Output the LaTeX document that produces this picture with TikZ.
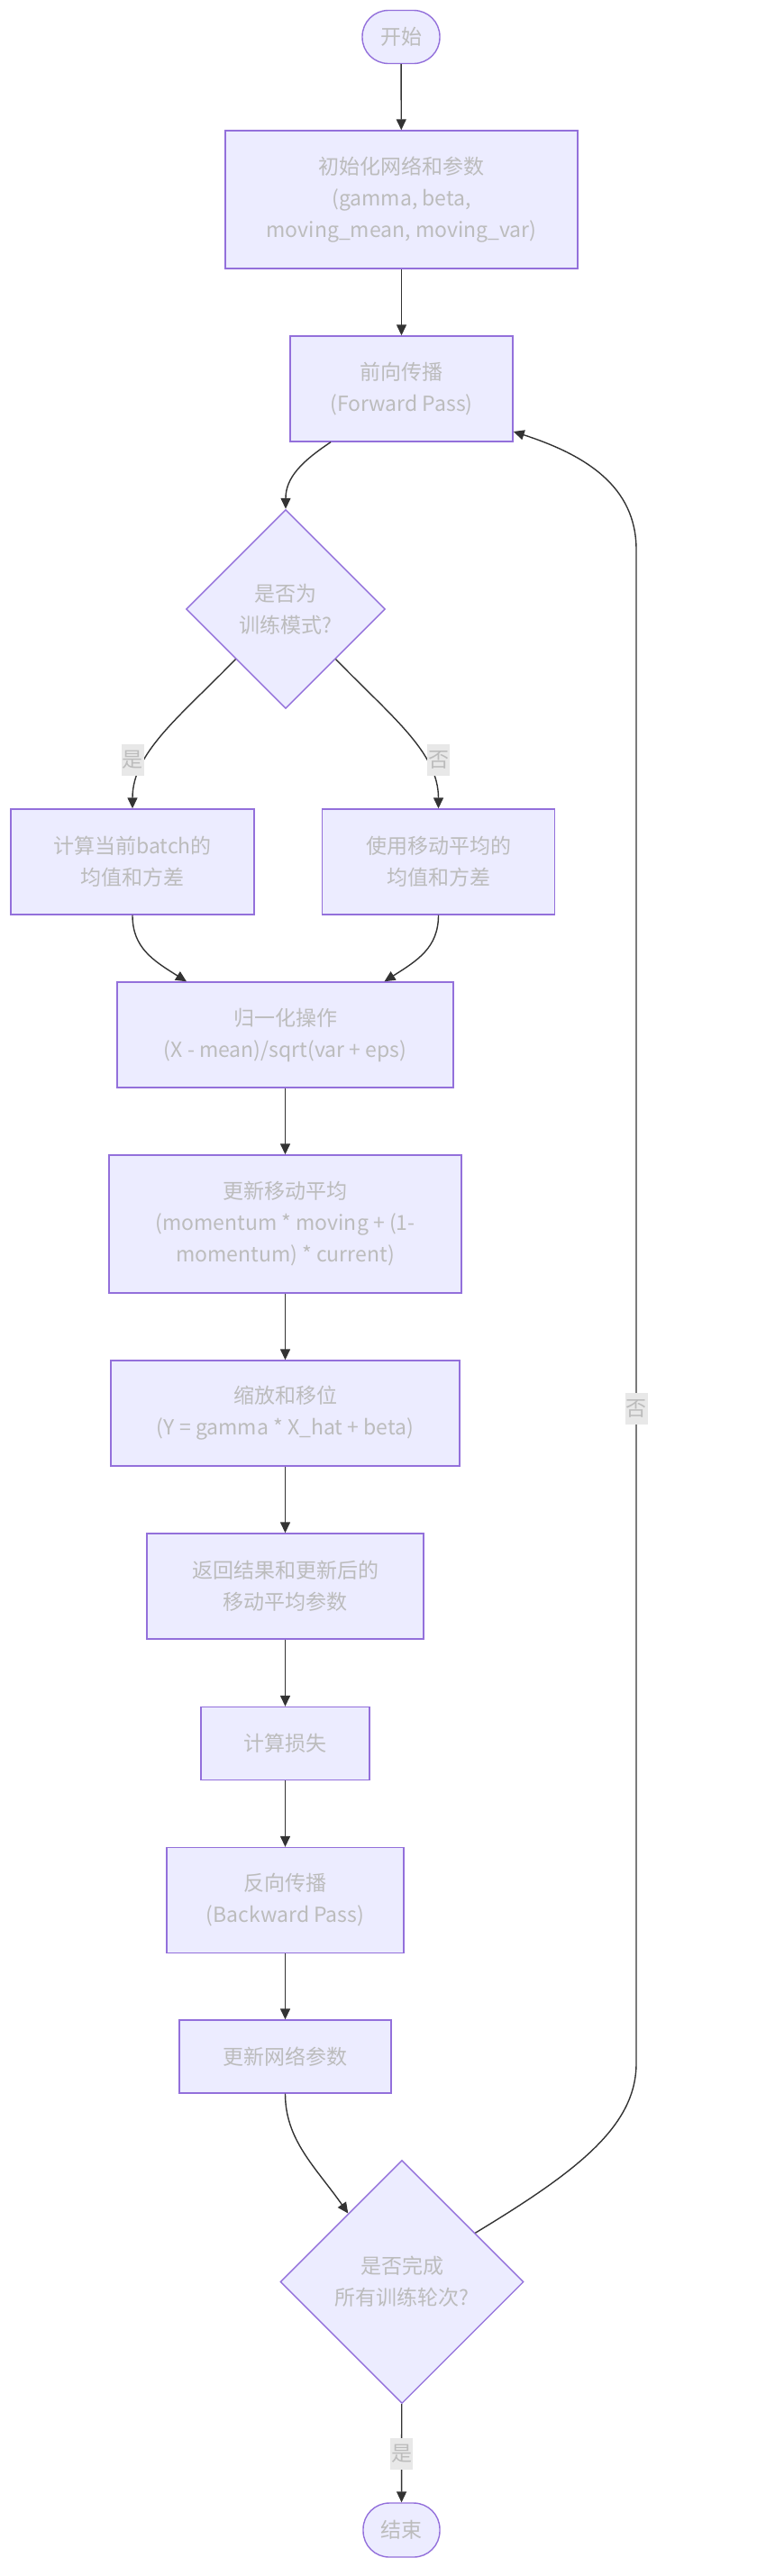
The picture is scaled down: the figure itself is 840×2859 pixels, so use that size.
\documentclass[tikz,border=0pt]{standalone}
\usepackage{fontspec}
\setmainfont{Noto Sans CJK SC}
\usetikzlibrary{shapes.geometric,arrows.meta,calc}
\definecolor{nodefill}{HTML}{ECECFF}
\definecolor{nodeline}{HTML}{9370DB}
\definecolor{txtgray}{RGB}{188,188,188}
\definecolor{edgecol}{HTML}{333333}
\definecolor{lblbg}{RGB}{232,232,232}
\tikzset{
  base/.style={draw=nodeline, fill=nodefill, line width=1.4pt, text=txtgray,
    align=center, inner sep=0pt, font=\fontsize{23}{35}\selectfont},
  procbox/.style={base, rectangle},
  termbox/.style={base, rectangle, rounded corners=29pt},
  decbox/.style={base, diamond, aspect=1},
  elabel/.style={fill=lblbg, text=txtgray, inner xsep=1pt, inner ysep=0pt,
    minimum height=35pt, font=\fontsize{23}{35}\selectfont},
  conn/.style={draw=edgecol, line width=1.4pt, -{Triangle[length=12pt,width=11pt]}}
}
\begin{document}
\begin{tikzpicture}[x=1pt,y=-1pt]
\useasboundingbox (0,0) rectangle (840,2859);
\node[termbox, minimum width=86pt, minimum height=59pt] (start) at (445,41) {开始};
\node[procbox, minimum width=391pt, minimum height=153pt] (init) at (445.5,221.5) {初始化网络和参数\\(gamma, beta,\\moving\_mean, moving\_var)};
\node[procbox, minimum width=247pt, minimum height=117pt] (fwd) at (445.5,431.5) {前向传播\\(Forward Pass)};
\node[decbox, minimum width=221pt, minimum height=221pt] (d1) at (317,676) {是否为\\训练模式?};
\node[procbox, minimum width=270pt, minimum height=117pt] (lb) at (147,956.5) {计算当前batch的\\均值和方差};
\node[procbox, minimum width=258pt, minimum height=117pt] (rb) at (486.5,956.5) {使用移动平均的\\均值和方差};
\node[procbox, minimum width=373pt, minimum height=117pt] (norm) at (316.5,1148.5) {归一化操作\\(X - mean)/sqrt(var + eps)};
\node[procbox, minimum width=391pt, minimum height=153pt] (upd) at (316.5,1358.5) {更新移动平均\\(momentum * moving + (1-\\momentum) * current)};
\node[procbox, minimum width=387pt, minimum height=117pt] (scl) at (316.5,1568.5) {缩放和移位\\(Y = gamma * X\_hat + beta)};
\node[procbox, minimum width=307pt, minimum height=117pt] (ret) at (316.5,1760.5) {返回结果和更新后的\\移动平均参数};
\node[procbox, minimum width=187pt, minimum height=81pt] (loss) at (316.5,1935) {计算损失};
\node[procbox, minimum width=263pt, minimum height=117pt] (bwd) at (316.5,2109) {反向传播\\(Backward Pass)};
\node[procbox, minimum width=235pt, minimum height=81pt] (updnet) at (316.5,2282.5) {更新网络参数};
\node[decbox, minimum width=270pt, minimum height=270pt] (d2) at (446,2532.5) {是否完成\\所有训练轮次?};
\node[termbox, minimum width=85pt, minimum height=60pt] (end) at (445.5,2808) {结束};

\coordinate (fwdout) at ([xshift=-78.5pt]fwd.south);
\coordinate (normin1) at ([xshift=-109.5pt]norm.north);
\coordinate (normin2) at ([xshift=110pt]norm.north);
\coordinate (d2in) at ($(d2.west)!0.56!(d2.north)$);
\coordinate (d2out) at ($(d2.north)!0.6!(d2.east)$);
\coordinate (fwdin) at ([yshift=-47.5pt]fwd.east);

\draw[conn] (start) -- (init);
\draw[conn] (init) -- (fwd);
\draw[conn] (fwdout) .. controls (335,512) and (317,530) .. (d1.north);
\draw[conn] (d1.south west) .. controls (200,795) and (147,835) .. (lb.north);
\draw[conn] (d1.south east) .. controls (434,795) and (486.5,835) .. (rb.north);
\draw[conn] (lb.south) .. controls (147,1052) and (170,1066) .. (normin1);
\draw[conn] (rb.south) .. controls (486.5,1052) and (463,1066) .. (normin2);
\draw[conn] (norm) -- (upd);
\draw[conn] (upd) -- (scl);
\draw[conn] (scl) -- (ret);
\draw[conn] (ret) -- (loss);
\draw[conn] (loss) -- (bwd);
\draw[conn] (bwd) -- (updnet);
\draw[conn] (updnet.south) .. controls (316.5,2375) and (350,2405) .. (d2in);
\draw[conn] (d2) -- (end);
\draw[conn] (d2out) .. controls (640,2410) and (706,2360) .. (706,2290) -- (706,610) .. controls (706,540) and (650,505) .. (fwdin);

\node[elabel] (l1) at (147,843) {是};
\node[elabel] (l2) at (486.5,843) {否};
\node[elabel] (l3) at (706,1563) {否};
\node[elabel] (l4) at (445.5,2723) {是};
\end{tikzpicture}
\end{document}
